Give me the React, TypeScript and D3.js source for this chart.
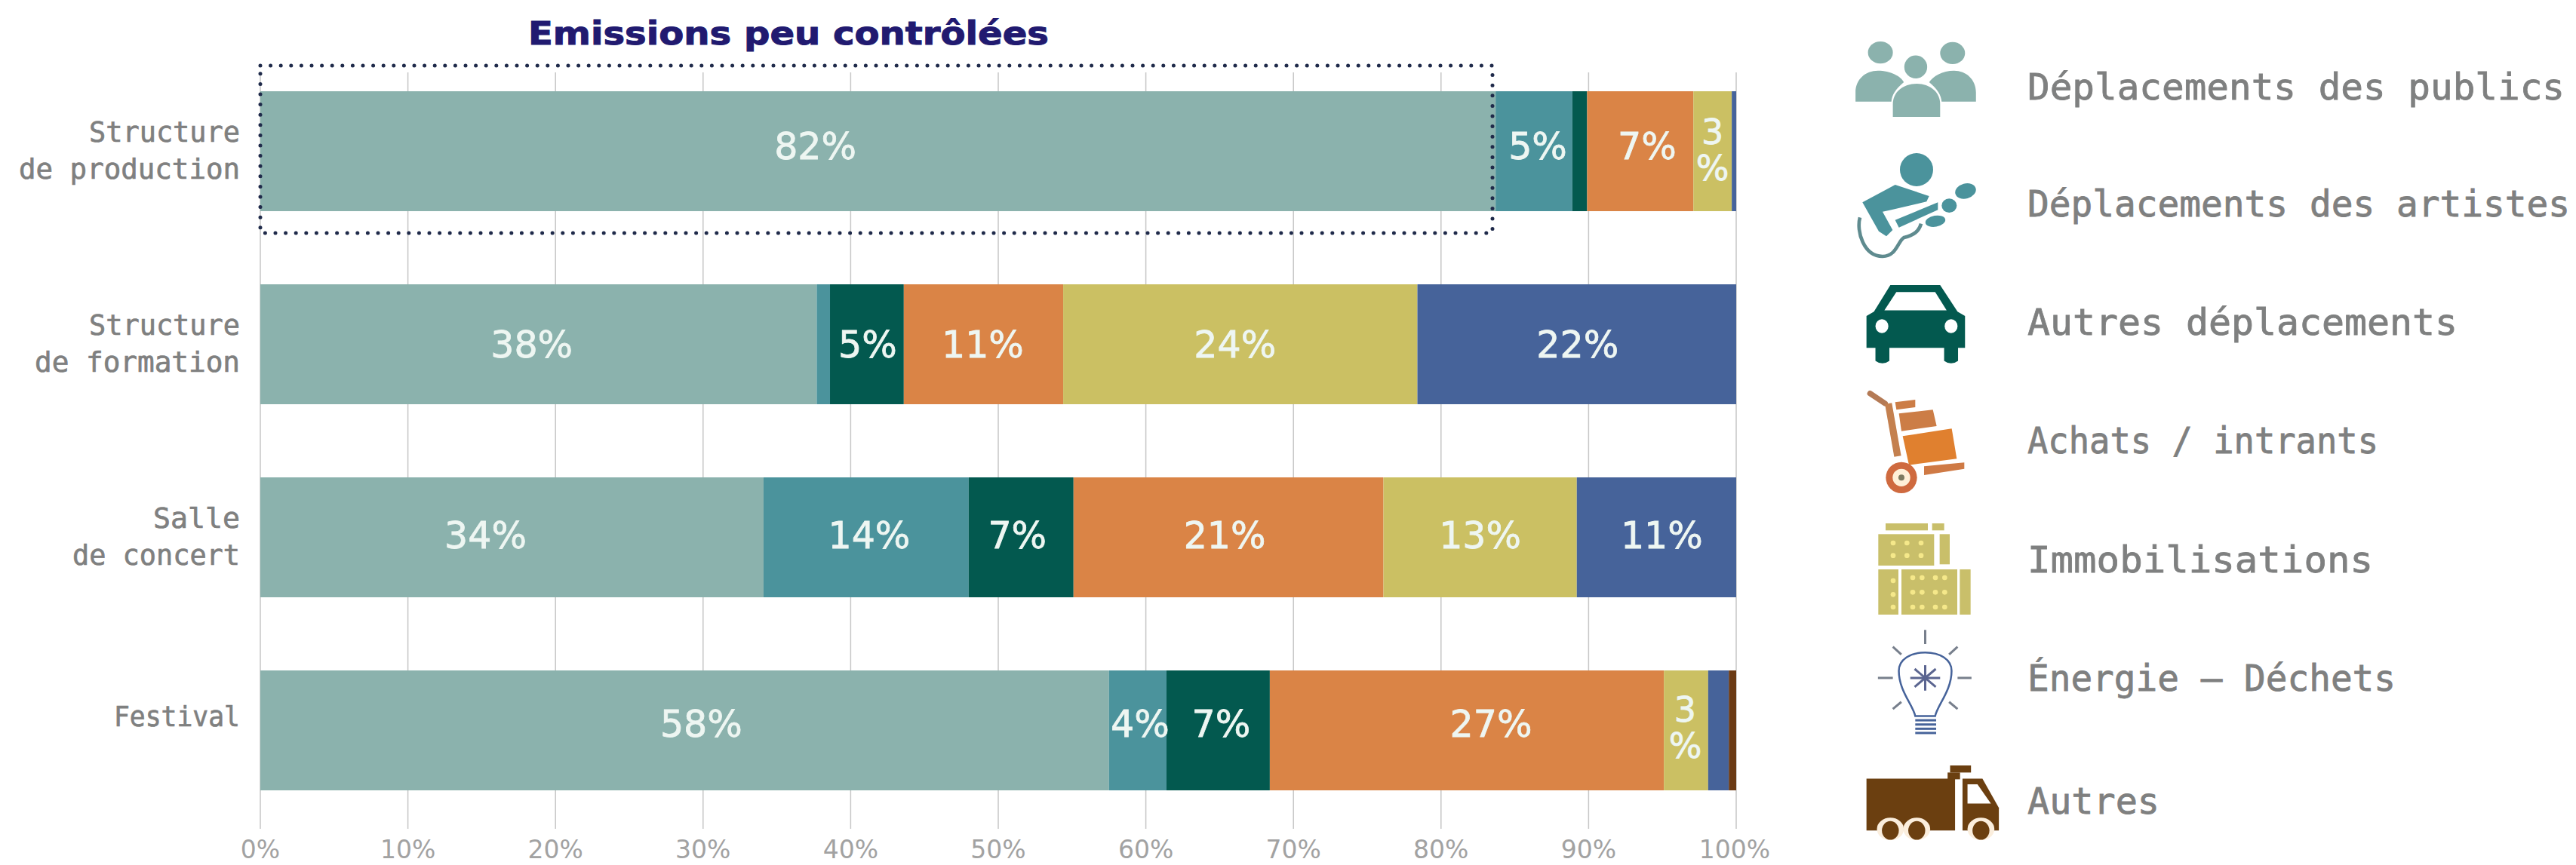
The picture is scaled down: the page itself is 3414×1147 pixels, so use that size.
import React from "react";
import * as d3 from "d3";

const categories = ["Structure de production", "Structure de formation", "Salle de concert", "Festival"];
const categoryLines = [["Structure", "de production"], ["Structure", "de formation"], ["Salle", "de concert"], ["Festival"]];
const categoryLineWidths = [[200, 293], [200, 272], [115, 222], [167]];
const seriesNames = ["Déplacements des publics", "Déplacements des artistes", "Autres déplacements", "Achats / intrants", "Immobilisations", "Énergie – Déchets", "Autres"];
const legendWidths = [712, 719, 570, 465, 458, 488, 175];
const seriesColors = ["#8bb2ad", "#4b939c", "#03594f", "#da8446", "#cbc063", "#46639a", "#6b3a14"];

const publics = [83.7, 37.7, 34.1, 57.5];
const artistes = [5.2, 0.9, 13.9, 3.9];
const autresDepl = [1.0, 5.0, 7.1, 7.0];
const achats = [7.2, 10.8, 21.0, 26.7];
const immobilisations = [2.6, 24.0, 13.1, 3.0];
const energie = [0.3, 21.6, 10.8, 1.4];
const autres = [0, 0, 0, 0.5];
const seriesValues = [publics, artistes, autresDepl, achats, immobilisations, energie, autres];

const publicsLabels = ["82%", "38%", "34%", "58%"];
const artistesLabels = ["5%", "", "14%", "4%"];
const autresDeplLabels = ["", "5%", "7%", "7%"];
const achatsLabels = ["7%", "11%", "21%", "27%"];
const immobilisationsLabels = ["3%", "24%", "13%", "3%"];
const energieLabels = ["", "22%", "11%", ""];
const autresLabels = ["", "", "", ""];
const seriesLabels = [publicsLabels, artistesLabels, autresDeplLabels, achatsLabels, immobilisationsLabels, energieLabels, autresLabels];

const axisTicks = [0, 10, 20, 30, 40, 50, 60, 70, 80, 90, 100];
const chartTitle = "Emissions peu contrôlées";

// layout
const W = 3414, H = 1147;
const x = d3.scaleLinear().domain([0, 100]).range([345, 2301]);
const y = d3.scaleBand<string>().domain(categories).range([121, 1048]).paddingInner(0.379).paddingOuter(0);
const labelDx = [[-83, 5, 0, 9, 0], [-9, 0, 1, -1, -7, 1], [-35, 4, -5, -5, 0, 7], [22, 3, 4, 32, -1]];
const labelDy = [-7, 0, -4, -10];
const MONO = "'DejaVu Sans Mono', monospace";
const SANS = "'DejaVu Sans', sans-serif";
const GREY = "#7f8080";

const rows = categories.map((c, i) => {
  const r: Record<string, number | string> = { c };
  seriesNames.forEach((s, k) => { r[s] = seriesValues[k][i]; });
  return r;
});
const stacked = d3.stack<any>().keys(seriesNames)(rows as any);

const legendY = [115, 270, 427, 584, 742, 899, 1062];

function Icons() {
  const nss = { vectorEffect: "non-scaling-stroke" } as any;
  const starAngles = d3.range(0, 180, 45);
  const backWin = [630, 680].flatMap((r) => [207, 262, 318].map((c) => [c, r]));
  const frontWin = [768, 826, 885].flatMap((r) => [285, 322, 375, 412].map((c) => [c, r]));
  const leftWin = [780, 835, 885].map((r) => [207, r]);
  return (
    <g>
      <g transform="translate(2380,0) scale(0.6596,0.3827)">
        <g fill="#8bb2ad">
          <ellipse cx={170} cy={182} rx={25} ry={38} />
          <ellipse cx={315} cy={184} rx={25} ry={38} />
          <ellipse cx={241} cy={232} rx={23} ry={40} />
          <path d="M120,352 V320 C120,275 140,245 165,245 C190,245 212,265 217,285 C200,310 193,330 192,352 Z" />
          <path d="M362,352 V320 C362,275 342,245 318,245 C295,245 275,265 268,285 C285,310 292,330 293,352 Z" />
          <path d="M195,405 V360 C195,320 215,290 243,290 C270,290 290,320 290,360 V405 Z" />
        </g>
        <path fill="#03594f" d="M190,988 H290 L325,1080 L340,1095 V1205 H326 V1250 Q312,1268 298,1250 V1205 H188 V1250 Q174,1268 160,1250 V1205 H142 V1095 L157,1080 Z" />
        <path fill="#fff" d="M202,1012 H280 L303,1075 H178 Z" />
        <ellipse cx={173} cy={1130} rx={13} ry={24} fill="#fff" />
        <ellipse cx={312} cy={1130} rx={13} ry={24} fill="#fff" />
      </g>

      {/* guitarist */}
      <g transform="translate(2440,190) scale(0.3333)" fill="#4b939c">
        <circle cx={300} cy={105} r={66} />
        <path d="M85,235 L215,165 L350,210 L340,232 L200,265 L165,272 L205,345 L180,370 L150,350 Z" />
        <path d="M215,305 L385,235 L385,265 L230,335 Z" />
        <ellipse cx={430} cy={248} rx={30} ry={28} />
        <ellipse cx={495} cy={190} rx={42} ry={30} transform="rotate(-15 495 190)" />
        <ellipse cx={375} cy={310} rx={40} ry={22} transform="rotate(-10 375 310)" />
        <path fill="none" stroke="#5f8b8f" strokeWidth={14} d="M75,295 C60,350 90,450 165,450 C220,450 225,390 250,375 C290,365 310,350 318,320" />
      </g>

      {/* trolley and buildings */}
      <g transform="translate(2440,510) scale(0.3333)">
        <path fill="none" stroke="#b47a55" strokeWidth={22} strokeLinecap="round" d="M115,35 L175,75" />
        <path fill="none" stroke="#c4804f" strokeWidth={28} d="M188,75 L225,285" />
        <path fill="#cc7d46" d="M215,70 L295,60 L295,90 L220,100 Z" />
        <path fill="#cc7d46" d="M230,115 L365,100 L380,165 L240,185 Z" />
        <path fill="#e0802f" d="M245,205 L440,175 L460,295 L270,320 Z" />
        <path fill="#cf7a45" d="M330,325 L490,310 L490,335 L330,360 Z" />
        <circle cx={240} cy={370} r={62} fill="#cf6a3f" />
        <circle cx={240} cy={370} r={35} fill="#fff0d8" />
        <circle cx={240} cy={370} r={12} fill="#7d7a60" />

        <g fill="#c9bf6a">
          <rect x={177} y={552} width={168} height={28} />
          <rect x={362} y={552} width={48} height={28} />
          <rect x={148} y={595} width={222} height={125} />
          <rect x={392} y={595} width={40} height={120} />
          <rect x={148} y={735} width={80} height={180} />
          <rect x={240} y={735} width={222} height={180} />
          <rect x={472} y={735} width={43} height={180} />
        </g>
        <g fill="#f5e88a">
          {[...backWin, ...frontWin, ...leftWin].map(([c, r]) => <circle key={`${c}-${r}`} cx={c} cy={r} r={10} />)}
        </g>
      </g>

      <g transform="translate(2380,560) scale(0.6596,0.3745)">
        <g fill="none" stroke="#46639a" strokeWidth={2.5} {...nss}>
          <path {...nss} d="M240,1040 C235,1000 207,950 207,880 C207,840 230,815 260,815 C290,815 313,840 313,880 C313,950 285,1000 280,1040 Z" />
          {[1055, 1070, 1085, 1100].map((v) => <line key={v} {...nss} x1={240} x2={282} y1={v} y2={v} strokeWidth={3} />)}
        </g>
        <g stroke="#777f8c" strokeWidth={3}>
          <line {...nss} x1={260} y1={735} x2={260} y2={785} />
          <line {...nss} x1={195} y1={795} x2={212} y2={822} />
          <line {...nss} x1={325} y1={795} x2={308} y2={822} />
          <line {...nss} x1={165} y1={905} x2={195} y2={905} />
          <line {...nss} x1={325} y1={905} x2={353} y2={905} />
          <line {...nss} x1={195} y1={1015} x2={212} y2={990} />
          <line {...nss} x1={325} y1={1015} x2={308} y2={990} />
          {starAngles.map((a) => {
            const t = (a * Math.PI) / 180;
            return <line key={a} {...nss} stroke="#5b6590" x1={260 - 30 * Math.cos(t)} y1={905 - 45 * Math.sin(t)} x2={260 + 30 * Math.cos(t)} y2={905 + 45 * Math.sin(t)} />;
          })}
        </g>
        <g fill="#6b3f10">
          <rect x={310} y={1215} width={42} height={25} />
          <rect x={305} y={1240} width={25} height={24} />
          <path d="M142,1262 H320 V1445 H142 Z" />
          <path d="M335,1262 H375 L408,1365 V1445 H335 Z" />
          <path fill="#fff" d="M345,1282 H365 L392,1350 H345 Z" />
          {[190, 243, 372].map((c) => (
            <g key={c}>
              <ellipse cx={c} cy={1440} rx={27} ry={40} fill="#fbeedd" />
              <ellipse cx={c} cy={1445} rx={17} ry={33} />
            </g>
          ))}
        </g>
      </g>
    </g>
  );
}

export default function App() {
  return (
    <svg width={W} height={H} viewBox={`0 0 ${W} ${H}`} style={{ position: "absolute", left: 0, top: 0, display: "block", background: "#fff" }}>
      {axisTicks.map((t) => (
        <g key={t}>
          <line x1={x(t)} x2={x(t)} y1={96} y2={1099} stroke="#c6c6c6" strokeWidth={1.5} />
          <text x={x(t) - (t === 100 ? 2 : 0)} y={1138} textAnchor="middle" fontFamily={SANS} fontSize={33} fill="#a2a2a2">{t}%</text>
        </g>
      ))}

      {stacked.map((layer, k) => (
        <g key={seriesNames[k]} fill={seriesColors[k]}>
          {layer.map((d, i) => d[1] > d[0] ? (
            <rect key={i} x={x(d[0])} y={y(categories[i])} width={x(d[1]) - x(d[0])} height={y.bandwidth()} />
          ) : null)}
        </g>
      ))}

      {stacked.map((layer, k) => layer.map((d, i) => {
        const label = seriesLabels[k][i];
        if (!label) return null;
        const cx = (x(d[0]) + x(d[1])) / 2 + (labelDx[i][k] || 0);
        const cy = (y(categories[i]) as number) + y.bandwidth() / 2 + labelDy[i];
        const fill = "#eef6f2";
        if (label === "3%") {
          return (
            <g key={`${k}-${i}`} textAnchor="middle" fontFamily={SANS} fontSize={46} fill={fill} stroke={fill} strokeWidth={0.8}>
              <text x={cx} y={cy - 2}>3</text>
              <text x={cx} y={cy + 46}>%</text>
            </g>
          );
        }
        return <text key={`${k}-${i}`} x={cx} y={cy + 18} textAnchor="middle" fontFamily={SANS} fontSize={49} fill={fill} stroke={fill} strokeWidth={0.8}>{label}</text>;
      }))}

      <rect x={345} y={87} width={1633} height={222} fill="none" stroke="#1f2a4a" strokeWidth={5} strokeLinecap="round" strokeDasharray="0 13.6" />
      <text x={700} y={59} fontFamily={SANS} fontWeight={700} fontSize={42} fill="#211a70" stroke="#211a70" strokeWidth={1} textLength={690} lengthAdjust="spacingAndGlyphs">{chartTitle}</text>

      {categoryLines.map((lines, i) => {
        const mid = (y(categories[i]) as number) + y.bandwidth() / 2 - 1;
        return lines.map((ln, j) => (
          <text key={ln + i} x={318} y={mid + (j - (lines.length - 1) / 2) * 49 + 13 - (i === 3 ? 18 : 0)} textAnchor="end" fontFamily={MONO} fontSize={38} fill={GREY} stroke={GREY} strokeWidth={0.7} textLength={categoryLineWidths[i][j]} lengthAdjust="spacingAndGlyphs">{ln}</text>
        ));
      })}

      <Icons />
      {seriesNames.map((s, k) => (
        <text key={s} x={2687} y={legendY[k] + 17} fontFamily={MONO} fontSize={47.5} fill={GREY} stroke={GREY} strokeWidth={0.8} textLength={legendWidths[k]} lengthAdjust="spacingAndGlyphs">{s}</text>
      ))}
    </svg>
  );
}
